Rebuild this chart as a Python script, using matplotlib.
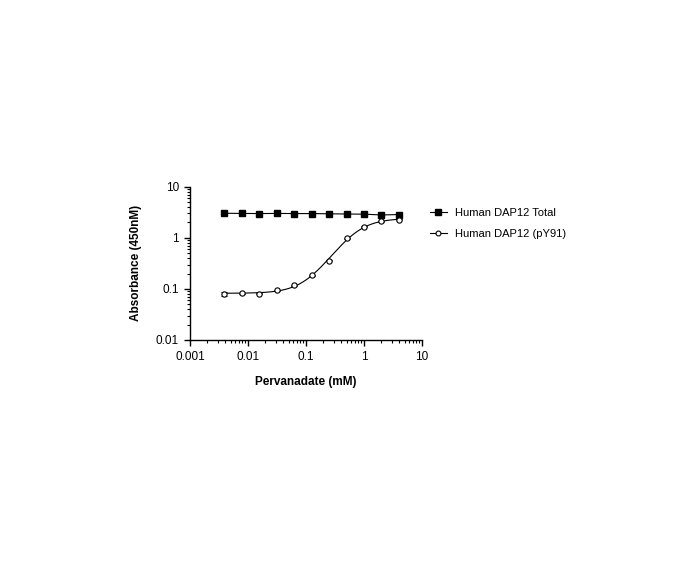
import numpy as np
import matplotlib
matplotlib.use("Agg")
import matplotlib.pyplot as plt
from matplotlib.ticker import LogLocator, FixedLocator, FixedFormatter, NullFormatter
from matplotlib.lines import Line2D

plt.rcParams['font.family'] = ['Liberation Sans', 'DejaVu Sans']

conc = [0.0039, 0.0078, 0.0156, 0.03125, 0.0625, 0.125, 0.25, 0.5, 1, 2, 4]
total = [3.02, 3.0, 2.98, 3.0, 2.98, 2.98, 2.95, 2.92, 2.9, 2.8, 2.85]
py91 = [0.080, 0.082, 0.081, 0.095, 0.118, 0.186, 0.354, 0.97, 1.64, 2.09, 2.25]
py91_err = [0.007, 0.002, 0.002, 0.002, 0.002, 0.004, 0.01, 0.03, 0.04, 0.05, 0.05]

xticks = [0.001, 0.01, 0.1, 1, 10]
xticklabels = ['0.001', '0.01', '0.1', '1', '10']
yticks = [0.01, 0.1, 1, 10]
yticklabels = ['0.01', '0.1', '1', '10']

# 4-parameter logistic least-squares fit (grid search, log space)
cx = np.array(conc); cy = np.array(py91)
best = None
for b in np.linspace(0.07, 0.09, 11):
    for t in np.linspace(2.0, 3.0, 26):
        for e in np.linspace(0.3, 1.0, 36):
            for h in np.linspace(1.2, 2.6, 29):
                p = b + (t - b) / (1 + (e / cx) ** h)
                r = np.sum((np.log(p) - np.log(cy)) ** 2)
                if best is None or r < best[0]:
                    best = (r, b, t, e, h)
_, fb, ft, fe, fh = best

fig = plt.figure(figsize=(6.96, 5.64), dpi=100)
ax = fig.add_axes([190/696, 1-340/564, (422-190)/696, (340-186.7)/564])
ax.set_xscale('log')
ax.set_yscale('log')

ax.plot(conc, total, '-', color='black', lw=0.8, marker='s', ms=4,
        mfc='black', mec='black', zorder=3)

xf = np.logspace(np.log10(conc[0]), np.log10(conc[-1]), 300)
yf = fb + (ft - fb) / (1 + (fe / xf) ** fh)
ax.plot(xf, yf, '-', color='black', lw=0.8, zorder=2)
ax.errorbar(conc, py91, yerr=py91_err, fmt='none', ecolor='black', elinewidth=0.8,
            capsize=2.2, capthick=0.8, zorder=2)
ax.plot(conc, py91, 'o', color='black', ms=3.8, mfc='white', mec='black', mew=0.8, zorder=4)

h1 = Line2D([], [], color='black', lw=0.8, marker='s', ms=3.8, mfc='black', mec='black')
h2 = Line2D([], [], color='black', lw=0.8, marker='o', ms=3.5, mfc='white', mec='black', mew=0.8)
fig.legend([h1, h2], ['Human DAP12 Total', 'Human DAP12 (pY91)'],
           loc='upper left', bbox_to_anchor=(430/696, 1-208/564), frameon=False,
           fontsize=8, handlelength=1.5, handletextpad=0.75, labelspacing=0.95,
           borderaxespad=0, borderpad=0)

ax.set_xlim(0.001, 10)
ax.set_ylim(0.01, 10)
ax.xaxis.set_major_locator(FixedLocator(xticks))
ax.xaxis.set_major_formatter(FixedFormatter(xticklabels))
ax.yaxis.set_major_locator(FixedLocator(yticks))
ax.yaxis.set_major_formatter(FixedFormatter(yticklabels))
ax.xaxis.set_minor_locator(LogLocator(base=10, subs=np.arange(2, 10), numticks=20))
ax.yaxis.set_minor_locator(LogLocator(base=10, subs=np.arange(2, 10), numticks=20))
ax.xaxis.set_minor_formatter(NullFormatter())
ax.yaxis.set_minor_formatter(NullFormatter())

for s in ['top', 'right']:
    ax.spines[s].set_visible(False)
for s in ['left', 'bottom']:
    ax.spines[s].set_linewidth(1.0)
ax.tick_params(which='major', direction='out', length=4.5, width=1.0, labelsize=8.5, pad=3.5)
ax.tick_params(which='minor', direction='out', length=2.5, width=0.8)

ax.set_xlabel('Pervanadate (mM)', fontsize=8.5, fontweight='bold', labelpad=9)
ax.set_ylabel('Absorbance (450nM)', fontsize=8.5, fontweight='bold', labelpad=10)

fig.savefig('out.png', dpi=100)
